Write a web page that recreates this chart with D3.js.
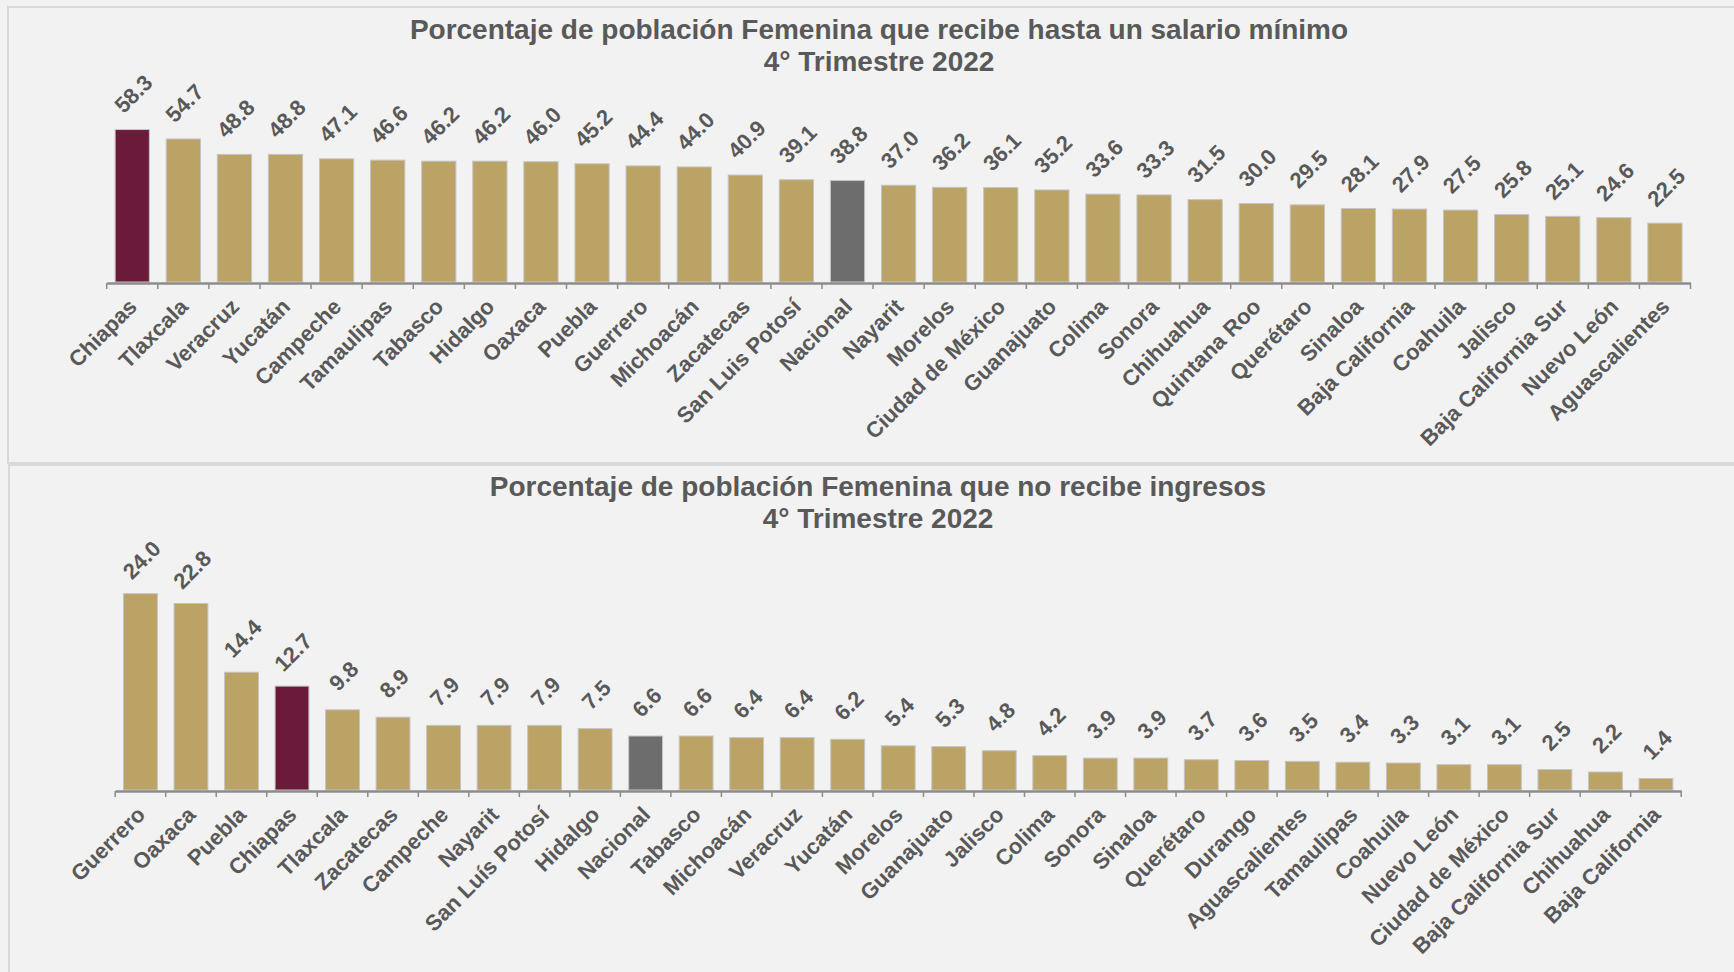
<!DOCTYPE html>
<html>
<head>
<meta charset="utf-8">
<script src="https://cdn.jsdelivr.net/npm/d3@7"></script>
<style>
  html, body { margin: 0; padding: 0; background: #F2F2F2; }
  svg { display: block; }
  text { font-family: "Liberation Sans", Arial, sans-serif; font-weight: bold; fill: #595959; }
</style>
</head>
<body>
<svg id="chart" width="1734" height="972"></svg>
<script>
// ---------- DATA ----------
const titleTop1 = "Porcentaje de población Femenina que recibe hasta un salario mínimo";
const titleTop2 = "4° Trimestre 2022";
const topCategories = ["Chiapas","Tlaxcala","Veracruz","Yucatán","Campeche","Tamaulipas","Tabasco","Hidalgo","Oaxaca","Puebla","Guerrero","Michoacán","Zacatecas","San Luis Potosí","Nacional","Nayarit","Morelos","Ciudad de México","Guanajuato","Colima","Sonora","Chihuahua","Quintana Roo","Querétaro","Sinaloa","Baja California","Coahuila","Jalisco","Baja California Sur","Nuevo León","Aguascalientes"];
const topValues = [58.3,54.7,48.8,48.8,47.1,46.6,46.2,46.2,46.0,45.2,44.4,44.0,40.9,39.1,38.8,37.0,36.2,36.1,35.2,33.6,33.3,31.5,30.0,29.5,28.1,27.9,27.5,25.8,25.1,24.6,22.5];

const titleBottom1 = "Porcentaje de población Femenina que no recibe ingresos";
const titleBottom2 = "4° Trimestre 2022";
const bottomCategories = ["Guerrero","Oaxaca","Puebla","Chiapas","Tlaxcala","Zacatecas","Campeche","Nayarit","San Luís Potosí","Hidalgo","Nacional","Tabasco","Michoacán","Veracruz","Yucatán","Morelos","Guanajuato","Jalisco","Colima","Sonora","Sinaloa","Querétaro","Durango","Aguascalientes","Tamaulipas","Coahuila","Nuevo León","Ciudad de México","Baja California Sur","Chihuahua","Baja California"];
const bottomValues = [24.0,22.8,14.4,12.7,9.8,8.9,7.9,7.9,7.9,7.5,6.6,6.6,6.4,6.4,6.2,5.4,5.3,4.8,4.2,3.9,3.9,3.7,3.6,3.5,3.4,3.3,3.1,3.1,2.5,2.2,1.4];

const highlightState = "Chiapas";
const nationalLabel = "Nacional";

// ---------- STYLE ----------
const colGold = "#BBA366", colMaroon = "#6B1A3A", colGray = "#6D6D6D";
const svg = d3.select("#chart");

// panels
svg.append("rect").attr("x", 8).attr("y", 7).attr("width", 1740).attr("height", 456)
  .attr("fill", "#F2F2F2").attr("stroke", "#D9D9D9").attr("stroke-width", 2);
svg.append("rect").attr("x", 9).attr("y", 465).attr("width", 1740).attr("height", 520)
  .attr("fill", "#F2F2F2").attr("stroke", "#D9D9D9").attr("stroke-width", 2);

function drawChart(cfg) {
  const g = svg.append("g");
  const x = d3.scaleBand().domain(cfg.cats).range(cfg.xRange).paddingInner(0.33).paddingOuter(0.165);
  const y = d3.scaleLinear().domain([0, cfg.yMax]).range([cfg.baseY, cfg.baseY - cfg.yMax * cfg.pxPerUnit]);
  const data = cfg.cats.map((c, i) => ({ c, v: cfg.vals[i] }));

  // titles
  g.append("text").attr("x", cfg.titleX).attr("y", cfg.titleY).attr("text-anchor", "middle")
    .style("font-size", "28px").text(cfg.t1);
  g.append("text").attr("x", cfg.titleX).attr("y", cfg.titleY + 32).attr("text-anchor", "middle")
    .style("font-size", "28px").text(cfg.t2);

  // bars
  g.selectAll("rect.bar").data(data).join("rect").attr("class", "bar")
    .attr("x", d => x(d.c)).attr("width", x.bandwidth())
    .attr("y", d => y(d.v)).attr("height", d => y(0) - y(d.v))
    .attr("fill", d => d.c === highlightState ? colMaroon : (d.c === nationalLabel ? colGray : colGold))
    .attr("stroke", "#C4C4C4").attr("stroke-width", 1);

  // axis
  const axis = d3.axisBottom(x).tickSize(0).tickFormat("");
  const ag = g.append("g").attr("transform", `translate(0,${cfg.baseY + 1})`).call(axis);
  ag.select(".domain").attr("stroke", "#8C8C8C").attr("stroke-width", 2.5);
  const step = x.step();
  const tickPos = d3.range(cfg.cats.length + 1).map(i => cfg.xRange[0] + i * step);
  g.selectAll("line.tk").data(tickPos).join("line").attr("class", "tk")
    .attr("x1", d => d).attr("x2", d => d).attr("y1", cfg.baseY + 1).attr("y2", cfg.baseY + 7)
    .attr("stroke", "#8C8C8C").attr("stroke-width", 1.5);

  // category labels
  g.selectAll("text.cat").data(data).join("text").attr("class", "cat")
    .attr("text-anchor", "end").style("font-size", "22px")
    .attr("transform", d => `translate(${x(d.c) + x.bandwidth() / 2 + 6},${cfg.baseY + 26}) rotate(-45)`)
    .text(d => d.c);

  // value labels (centred above each bar, rotated)
  g.selectAll("text.val").data(data).join("text").attr("class", "val")
    .attr("text-anchor", "middle").attr("dy", "0.36em").style("font-size", "22px")
    .attr("transform", d => `translate(${x(d.c) + x.bandwidth() / 2 + 1},${y(d.v) - cfg.lblGap}) rotate(-45)`)
    .text(d => d3.format(".1f")(d.v));
}

drawChart({ cats: topCategories, vals: topValues, xRange: [106.7, 1690.5], baseY: 282, yMax: 70, pxPerUnit: 2.615,
  t1: titleTop1, t2: titleTop2, titleX: 879, titleY: 38.5, lblGap: 36 });
drawChart({ cats: bottomCategories, vals: bottomValues, xRange: [115.2, 1681.2], baseY: 790, yMax: 30, pxPerUnit: 8.18,
  t1: titleBottom1, t2: titleBottom2, titleX: 878, titleY: 496, lblGap: 34 });
</script>
</body>
</html>
